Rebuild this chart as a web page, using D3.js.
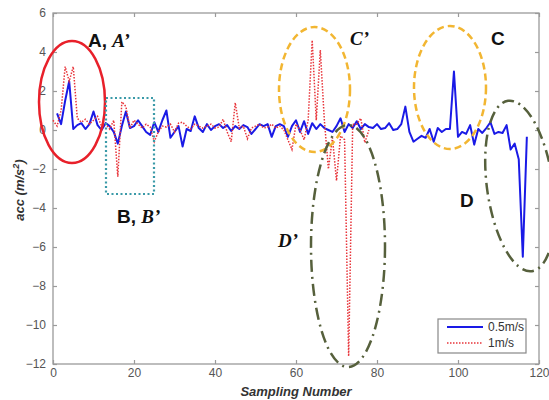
<!DOCTYPE html>
<html><head><meta charset="utf-8">
<script src="https://cdn.jsdelivr.net/npm/d3@7"></script>
<style>body{margin:0;background:#fff}svg{display:block}</style>
</head><body>
<svg id="c" width="549" height="400"></svg>
<script>
// ---- data ----
const blueX = d3.range(1, 118);
const blueY = [0.85,0.3,1.5,2.5,0.05,0.25,0.35,0.05,0.3,0.95,
0.25,0.0,0.35,0.2,-0.1,-0.7,0.2,0.95,0.1,0.2,
0.5,0.2,-0.1,-0.25,0.4,-0.1,0.5,1.0,-0.4,-0.1,
0.2,-0.85,0.05,-0.05,0.7,0.1,-0.1,0.3,0.0,0.2,
0.3,0.1,0.25,-0.05,0.2,0.05,0.25,0.15,-0.2,0.05,
0.3,0.2,0.3,-0.35,0.2,0.3,0.2,-0.35,0.2,0.5,
-0.1,0.45,-0.2,0.35,0.05,0.3,0.1,0.0,-0.1,0.2,
0.6,-0.1,0.3,0.1,0.45,0.05,0.3,0.15,0.1,0.3,
0.05,0.1,0.35,0.0,0.05,0.3,1.2,-0.1,-0.6,-0.45,
-0.3,-0.4,0.05,-0.6,0.1,-0.1,0.05,0.05,3.0,-0.35,
-0.1,-0.2,0.25,-0.75,0.05,-0.15,0.1,0.4,-0.2,-0.1,
-0.15,0.25,-1.0,-0.7,-1.5,-6.5,-0.35];
const redX = d3.range(0, 79);
const redY = [0.5,0.2,1.0,3.25,2.5,3.25,0.6,0.4,0.55,0.3,
0.5,0.7,0.2,0.3,0.05,0.5,-2.4,1.45,1.2,0.1,
0.5,0.3,0.1,0.3,0.15,-0.6,-0.1,0.2,0.15,0.3,
-0.1,0.35,0.4,0.2,0.05,0.3,0.2,0.1,0.2,0.3,
0.1,0.15,0.55,-0.1,-0.6,1.4,0.1,0.2,-0.45,0.1,
0.2,0.3,0.1,0.15,0.3,0.1,0.2,0.0,-0.5,-1.0,
0.3,0.0,-0.5,0.5,4.6,0.5,4.1,0.5,-2.0,-0.4,
-2.6,-0.3,-0.5,-11.6,0.3,0.3,0.6,-0.65,0.0];
const xTicks = [0,20,40,60,80,100,120];
const yTicks = [6,4,2,0,-2,-4,-6,-8,-10,-12];
const seriesNames = ["0.5m/s","1m/s"];

// ---- layout ----
const svg = d3.select("#c");
const L = 53, T = 13, W = 486, H = 351;
const x = d3.scaleLinear().domain([0,120]).range([L, L+W]);
const y = d3.scaleLinear().domain([-12,6]).range([T+H, T]);
const axisCol = "#9a9a9a";

// frame
svg.append("rect").attr("x",L).attr("y",T).attr("width",W).attr("height",H)
  .attr("fill","none").attr("stroke",axisCol).attr("stroke-width",1.3);

function styleAxis(g){
  g.select(".domain").remove();
  g.selectAll("line").attr("stroke",axisCol).attr("stroke-width",1.2);
  g.selectAll("text").attr("fill","#555").style("font-family","Liberation Sans, Arial, sans-serif").style("font-size","12px");
}
svg.append("g").attr("transform",`translate(0,${T+H})`)
  .call(d3.axisBottom(x).tickValues(xTicks).tickSizeInner(-4).tickPadding(4).tickFormat(d3.format("d")))
  .call(styleAxis);
svg.append("g").attr("transform",`translate(0,${T})`)
  .call(d3.axisTop(x).tickValues(xTicks).tickSizeInner(-4).tickFormat(""))
  .call(styleAxis);
svg.append("g").attr("transform",`translate(${L},0)`)
  .call(d3.axisLeft(y).tickValues(yTicks).tickSizeInner(-4).tickPadding(7).tickFormat(d3.format("d")))
  .call(styleAxis);
svg.append("g").attr("transform",`translate(${L+W},0)`)
  .call(d3.axisRight(y).tickValues(yTicks).tickSizeInner(-4).tickFormat(""))
  .call(styleAxis);

// axis labels
svg.append("text").attr("x",296).attr("y",396).attr("text-anchor","middle")
  .style("font-family","Liberation Sans, Arial, sans-serif").style("font-size","13px")
  .style("font-weight","bold").style("font-style","italic").attr("fill","#333")
  .text("Sampling Number");
const yl = svg.append("text").attr("transform","translate(24,190) rotate(-90)").attr("text-anchor","middle")
  .style("font-family","Liberation Sans, Arial, sans-serif").style("font-size","13px")
  .style("font-weight","bold").style("font-style","italic").attr("fill","#333");
yl.append("tspan").text("acc (m/s");
yl.append("tspan").attr("dy",-5).style("font-size","9px").text("2");
yl.append("tspan").attr("dy",5).text(")");

// lines
const line = d3.line().x(d=>x(d[0])).y(d=>y(d[1]));
const redData = redX.map((v,i)=>[v,redY[i]]);
const blueData = blueX.map((v,i)=>[v,blueY[i]]);
svg.append("path").datum(blueData).attr("d",line).attr("fill","none")
  .attr("stroke","#1a1ae6").attr("stroke-width",2).attr("stroke-linejoin","round");
svg.append("path").datum(redData).attr("d",line).attr("fill","none")
  .attr("stroke","#e8343a").attr("stroke-width",1.5).attr("stroke-dasharray","1.5,1.5");

// annotations
svg.append("ellipse").attr("cx",72).attr("cy",102).attr("rx",33).attr("ry",61)
  .attr("fill","none").attr("stroke","#e8202a").attr("stroke-width",2.5);
svg.append("rect").attr("x",106).attr("y",98).attr("width",48).attr("height",96)
  .attr("fill","none").attr("stroke","#3a9aa8").attr("stroke-width",2.2).attr("stroke-dasharray","2,2.5");
const gold = "#f2b632";
svg.append("ellipse").attr("cx",314.5).attr("cy",89.5).attr("rx",35.5).attr("ry",62.5)
  .attr("fill","none").attr("stroke",gold).attr("stroke-width",2.5).attr("stroke-dasharray","7,4");
svg.append("ellipse").attr("cx",450).attr("cy",87.5).attr("rx",36).attr("ry",61.5)
  .attr("fill","none").attr("stroke",gold).attr("stroke-width",2.5).attr("stroke-dasharray","7,4");
const olive = "#56603c";
svg.append("ellipse").attr("cx",348).attr("cy",246).attr("rx",37).attr("ry",121)
  .attr("fill","none").attr("stroke",olive).attr("stroke-width",2.5).attr("stroke-dasharray","12,5,2,5");
svg.append("ellipse").attr("cx",520).attr("cy",186).attr("rx",33).attr("ry",86)
  .attr("fill","none").attr("stroke",olive).attr("stroke-width",2.5).attr("stroke-dasharray","12,5,2,5")
  .attr("transform","rotate(-8,520,186)");

function label(xp, yp, sans, serif){
  const t = svg.append("text").attr("x",xp).attr("y",yp).attr("fill","#111").style("font-size","19px");
  if (sans) t.append("tspan").style("font-family","Liberation Sans, Arial, sans-serif").style("font-weight","bold").text(sans);
  if (serif) t.append("tspan").style("font-family","Liberation Serif, Times New Roman, serif").style("font-weight","bold").style("font-style","italic").text(serif);
}
label(88, 47, "A, ", "A\u2019");
label(117, 223, "B, ", "B\u2019");
label(350, 45, null, "C\u2019");
label(491, 45, "C", null);
label(278, 247, null, "D\u2019");
label(460, 207, "D", null);

// legend
const lg = svg.append("g");
lg.append("rect").attr("x",438).attr("y",319).attr("width",88).attr("height",34)
  .attr("fill","#fff").attr("stroke","#888").attr("stroke-width",1.2);
lg.append("line").attr("x1",447).attr("x2",483).attr("y1",327).attr("y2",327)
  .attr("stroke","#1a1ae6").attr("stroke-width",2);
lg.append("line").attr("x1",447).attr("x2",483).attr("y1",343).attr("y2",343)
  .attr("stroke","#e8343a").attr("stroke-width",1.5).attr("stroke-dasharray","1.5,1.5");
lg.selectAll("text.lt").data(seriesNames).enter().append("text").attr("class","lt")
  .attr("x",488).attr("y",(d,i)=>331+i*16)
  .style("font-family","Liberation Sans, Arial, sans-serif").style("font-size","12px").attr("fill","#333")
  .text(d=>d);
</script>
</body></html>
